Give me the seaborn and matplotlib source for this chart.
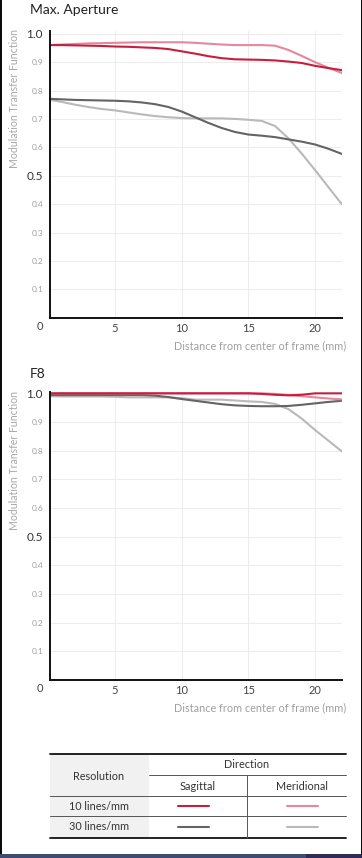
import matplotlib
matplotlib.use("Agg")
import matplotlib.pyplot as plt
import pandas as pd
import seaborn as sns
from matplotlib.patches import Rectangle

sns.set_style("white")
plt.rcParams["font.family"] = ["Lato", "DejaVu Sans"]

# distance from center of frame (mm)
distance = list(range(0, 23))

# Max. Aperture
max_sag10 = [0.960, 0.960, 0.959, 0.958, 0.957, 0.955, 0.954, 0.952, 0.950, 0.946, 0.938, 0.930,
             0.921, 0.914, 0.910, 0.909, 0.908, 0.906, 0.902, 0.897, 0.887, 0.879, 0.872]
max_mer10 = [0.960, 0.962, 0.964, 0.966, 0.967, 0.968, 0.969, 0.970, 0.970, 0.970, 0.970, 0.968,
             0.965, 0.962, 0.960, 0.960, 0.960, 0.958, 0.943, 0.922, 0.900, 0.880, 0.862]
max_sag30 = [0.771, 0.769, 0.767, 0.766, 0.765, 0.764, 0.762, 0.758, 0.752, 0.742, 0.726, 0.706,
             0.686, 0.668, 0.654, 0.645, 0.641, 0.636, 0.628, 0.620, 0.610, 0.595, 0.577]
max_mer30 = [0.768, 0.760, 0.750, 0.742, 0.735, 0.730, 0.723, 0.716, 0.710, 0.706, 0.703, 0.702,
             0.702, 0.702, 0.700, 0.697, 0.693, 0.675, 0.632, 0.578, 0.520, 0.460, 0.400]

# F8
f8_sag10 = [1.000, 1.000, 1.000, 1.000, 1.000, 1.000, 1.000, 1.000, 1.000, 1.000, 1.000, 1.000,
            1.000, 1.000, 1.000, 1.000, 0.998, 0.995, 0.993, 0.995, 1.000, 1.000, 1.000]
f8_mer10 = [1.000, 1.000, 1.000, 1.000, 1.000, 1.000, 1.000, 1.000, 1.000, 1.000, 1.000, 1.000,
            1.000, 1.000, 1.000, 1.000, 1.000, 0.998, 0.994, 0.990, 0.986, 0.982, 0.979]
f8_sag30 = [0.994, 0.994, 0.994, 0.994, 0.994, 0.994, 0.994, 0.994, 0.992, 0.987, 0.980, 0.974,
            0.968, 0.962, 0.958, 0.956, 0.955, 0.955, 0.956, 0.960, 0.965, 0.970, 0.974]
f8_mer30 = [0.990, 0.989, 0.989, 0.989, 0.989, 0.988, 0.986, 0.986, 0.986, 0.986, 0.983, 0.978,
            0.978, 0.978, 0.975, 0.972, 0.970, 0.963, 0.945, 0.912, 0.872, 0.835, 0.798]

series_names = ["30 Meridional", "30 Sagittal", "10 Meridional", "10 Sagittal"]
palette = {
    "10 Sagittal": "#c61f3e",
    "10 Meridional": "#e6879c",
    "30 Sagittal": "#646464",
    "30 Meridional": "#b9b9b9",
}
y_ticks = [0.1, 0.2, 0.3, 0.4, 0.5, 0.6, 0.7, 0.8, 0.9, 1.0]
x_ticks = [5, 10, 15, 20]

W, H = 362, 858


def to_frame(sag10, mer10, sag30, mer30):
    parts = []
    for name, vals in zip(["10 Sagittal", "10 Meridional", "30 Sagittal", "30 Meridional"],
                          [sag10, mer10, sag30, mer30]):
        parts.append(pd.DataFrame({"distance": distance, "mtf": vals, "series": name}))
    return pd.concat(parts, ignore_index=True)


def mtf_axes(fig, frame, top_px, bottom_px, ytop, title, title_y):
    ax = fig.add_axes([50 / W, 1 - bottom_px / H, 291.7 / W, (bottom_px - top_px) / H])
    sns.lineplot(data=frame, x="distance", y="mtf", hue="series", hue_order=series_names,
                 palette=palette, linewidth=1.5, legend=False, ax=ax)
    ax.set_xlim(0.12, 22)
    ax.set_ylim(0, ytop)
    ax.set_xticks(x_ticks)
    ax.set_yticks(y_ticks)
    ax.set_yticklabels([f"{v:.1f}" for v in y_ticks])
    ax.grid(True, color="#ededed", linewidth=0.8)
    ax.set_axisbelow(True)
    for side in ["top", "right"]:
        ax.spines[side].set_visible(False)
    for side in ["left", "bottom"]:
        ax.spines[side].set_color("#111111")
        ax.spines[side].set_linewidth(1.4)
    ax.tick_params(axis="y", length=0, pad=5)
    ax.tick_params(axis="x", length=0, pad=3.5, labelsize=8, labelcolor="#444444")
    for lab, v in zip(ax.get_yticklabels(), y_ticks):
        if v in (0.5, 1.0):
            lab.set_fontsize(8.5)
            lab.set_color("#333333")
        else:
            lab.set_fontsize(6)
            lab.set_color("#a0a0a0")
    ax.set_xlabel("")
    ax.set_ylabel("")
    ax.annotate("0", xy=(0, 0), xycoords="axes fraction", xytext=(-10, -9),
                textcoords="offset pixels", ha="center", va="center", fontsize=8, color="#444444")
    fig.text(30 / W, 1 - title_y / H, title, fontsize=10, color="#222222", ha="left", va="center")
    return ax


fig = plt.figure(figsize=(W / 100, H / 100), dpi=100)
fig.patch.set_facecolor("white")

mtf_axes(fig, to_frame(max_sag10, max_mer10, max_sag30, max_mer30), 30.9, 317.7, 1.01,
         "Max. Aperture", 10)
fig.text(15 / W, 1 - 98 / H, "Modulation Transfer Function", rotation=90, fontsize=7.6,
         color="#a8a8a8", ha="center", va="center")
fig.text(346 / W, 1 - 346 / H, "Distance from center of frame (mm)", fontsize=7.8,
         color="#a0a0a0", ha="right", va="center")

mtf_axes(fig, to_frame(f8_sag10, f8_mer10, f8_sag30, f8_mer30), 391.9, 680, 1.005, "F8", 374)
fig.text(15 / W, 1 - 461 / H, "Modulation Transfer Function", rotation=90, fontsize=7.6,
         color="#a8a8a8", ha="center", va="center")
fig.text(346 / W, 1 - 708 / H, "Distance from center of frame (mm)", fontsize=7.8,
         color="#a0a0a0", ha="right", va="center")

# legend table + frame borders, drawn in pixel coordinates
ov = fig.add_axes([0, 0, 1, 1])
ov.set_xlim(0, W)
ov.set_ylim(H, 0)
ov.axis("off")
ov.patch.set_visible(False)

ov.add_patch(Rectangle((50, 754), 99, 84, color="#f1f1f1", lw=0))
ov.plot([50, 346], [754.3, 754.3], color="#111111", lw=1.3)
ov.plot([50, 346], [837.7, 837.7], color="#111111", lw=1.3)
ov.plot([149, 346], [775.3, 775.3], color="#555555", lw=0.7)
ov.plot([50, 346], [796, 796], color="#555555", lw=0.7)
ov.plot([50, 346], [816.3, 816.3], color="#555555", lw=0.7)
ov.plot([247.3, 247.3], [775.3, 837.7], color="#555555", lw=0.7)

txt = dict(fontsize=7.8, color="#333333", ha="center", va="center")
ov.text(99, 776, "Resolution", **txt)
ov.text(247, 765, "Direction", **txt)
ov.text(198, 786, "Sagittal", **txt)
ov.text(302, 786, "Meridional", **txt)
ov.text(99, 806, "10 lines/mm", **txt)
ov.text(99, 827, "30 lines/mm", **txt)
for row_y, res in [(806, "10"), (827, "30")]:
    ov.plot([178, 209], [row_y, row_y], color=palette[res + " Sagittal"], lw=1.5)
    ov.plot([287, 318], [row_y, row_y], color=palette[res + " Meridional"], lw=1.5)

ov.add_patch(Rectangle((0, 0), 2.3, H, color="#0b0b0b", lw=0))
ov.add_patch(Rectangle((360.8, 0), 1.2, H, color="#0b0b0b", lw=0))
ov.add_patch(Rectangle((0, 854.3), 306, 4, color="#3c4e6c", lw=0))
ov.add_patch(Rectangle((306, 854.3), 56, 4, color="#2f2d55", lw=0))

fig.savefig("out.png", dpi=100)
